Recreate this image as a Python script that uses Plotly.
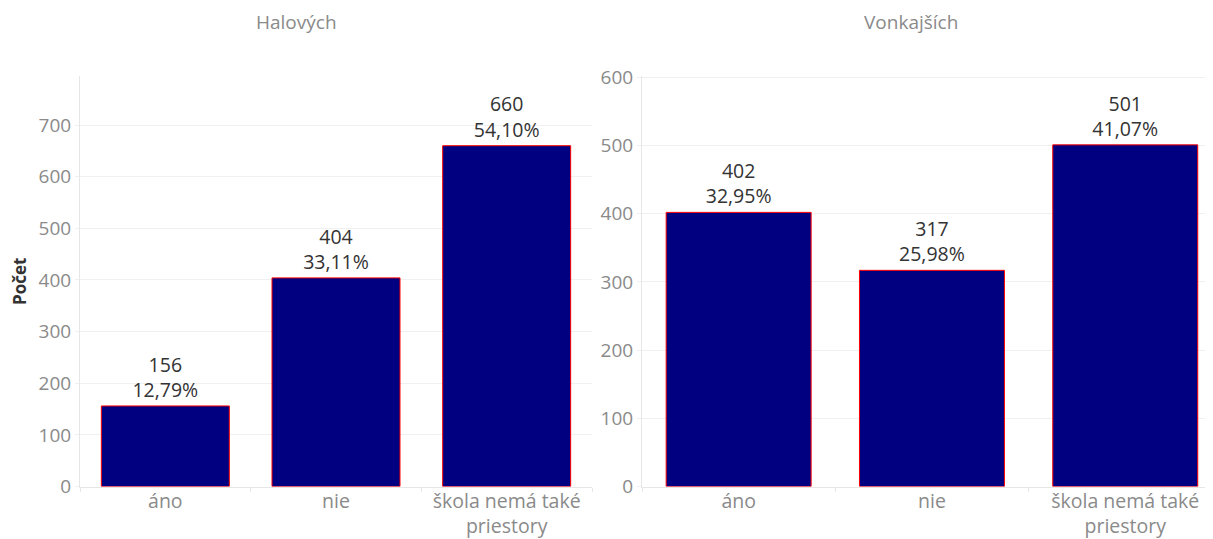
import plotly.graph_objects as go

categories = ["áno", "nie", "škola nemá také<br>priestory"]
halove_counts = [156, 404, 660]
halove_pct = ["12,79%", "33,11%", "54,10%"]
vonkajsie_counts = [402, 317, 501]
vonkajsie_pct = ["32,95%", "25,98%", "41,07%"]
panel_titles = ["Halových", "Vonkajších"]
y_title = "Počet"

# the page body has an 8px default margin; the figure fills the rest of the window
OFF = 8
W, H = 1213 - OFF, 539 - OFF
FONT = "Open Sans"
GRAY = "#8a8a8a"
GRID = "#f0f0f0"

def px_x(p):
    return (p - OFF) / W

def px_y(p):
    return (H - (p - OFF)) / H

fig = go.Figure()

for i, (cnt, pct) in enumerate([(halove_counts, halove_pct), (vonkajsie_counts, vonkajsie_pct)]):
    fig.add_trace(go.Bar(
        x=categories, y=cnt,
        text=[f"{c}<br>{p}" for c, p in zip(cnt, pct)],
        textposition="outside", cliponaxis=False,
        textfont=dict(family=FONT, size=19.5, color="#333333"),
        marker=dict(color="#000080", line=dict(color="#ff0000", width=1)),
        width=0.75,
        xaxis="x" if i == 0 else "x2",
        yaxis="y" if i == 0 else "y2",
        showlegend=False, hoverinfo="x+y",
    ))

axis_common = dict(
    showgrid=False, ticks="outside", ticklen=4, tickcolor="#e6e6e6",
    showline=True, linecolor="#e6e6e6", linewidth=1,
    tickfont=dict(family=FONT, size=19.5, color=GRAY),
    ticklabelstandoff=-3,
    tickson="boundaries", fixedrange=True, automargin=False,
)
yaxis_common = dict(
    showgrid=True, gridcolor=GRID, gridwidth=1, zeroline=False,
    ticks="outside", ticklen=4, tickcolor=GRID,
    showline=True, linecolor="#e6e6e6", linewidth=1,
    tickfont=dict(family=FONT, size=19, color=GRAY),
    dtick=100, fixedrange=True, automargin=False,
)

fig.update_layout(
    width=W, height=H,
    margin=dict(l=0, r=0, t=0, b=0, pad=0),
    paper_bgcolor="white", plot_bgcolor="white",
    bargap=0.25,
    xaxis=dict(domain=[px_x(80), px_x(592)], range=[-0.5, 2.5], anchor="y", **axis_common),
    xaxis2=dict(domain=[px_x(642), 1.0], range=[-0.5, 2.454], anchor="y2", **axis_common),
    yaxis=dict(domain=[px_y(486.5), px_y(76)], range=[0, 795], anchor="x",
               title=dict(text=f"<b>{y_title}</b>", font=dict(family=FONT, size=17, color="#333333"), standoff=16),
               **yaxis_common),
    yaxis2=dict(domain=[px_y(486.5), px_y(76)], range=[0, 602], anchor="x2", **yaxis_common),
    annotations=[
        dict(text=panel_titles[0], x=px_x(296), y=px_y(22), xref="paper", yref="paper",
             xanchor="center", yanchor="middle",
             showarrow=False, font=dict(family=FONT, size=19, color=GRAY)),
        dict(text=panel_titles[1], x=px_x(911), y=px_y(22), xref="paper", yref="paper",
             xanchor="center", yanchor="middle",
             showarrow=False, font=dict(family=FONT, size=19, color=GRAY)),
    ],
)

fig.write_html("out.html")
